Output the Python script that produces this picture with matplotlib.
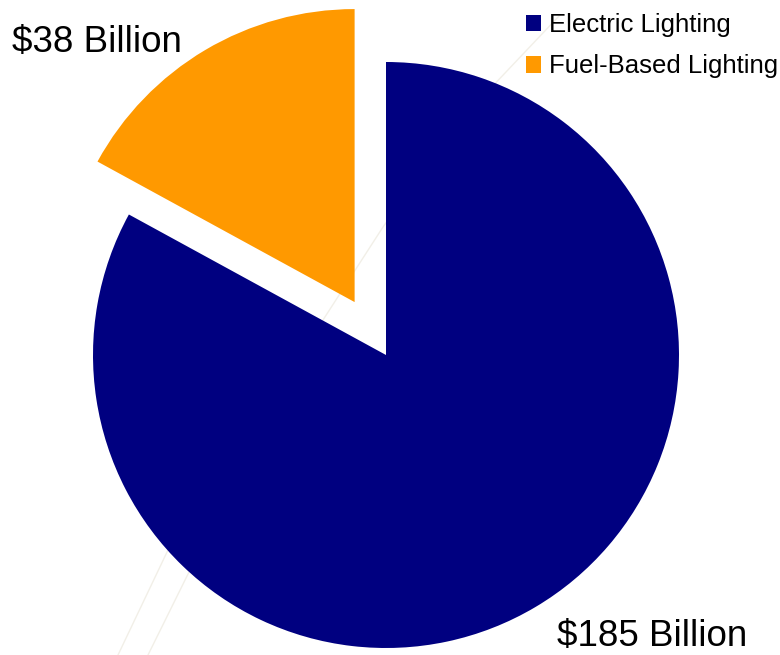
import matplotlib
matplotlib.use("Agg")
import matplotlib.pyplot as plt
from matplotlib.lines import Line2D

plt.rcParams['font.family'] = ['Liberation Sans', 'DejaVu Sans']

categories = ["Electric Lighting", "Fuel-Based Lighting"]
values = [185, 38]
value_labels = ["$185 Billion", "$38 Billion"]
colors = ["#000080", "#FF9900"]

W, H = 780, 655
fig = plt.figure(figsize=(W / 100, H / 100), dpi=100)
ax = fig.add_axes([0, 0, 1, 1])
ax.set_xlim(0, W)
ax.set_ylim(0, H)
ax.set_aspect('equal')
ax.axis('off')

# faint decorative background lines
for xs, ys in [((118, 168, 215, 323, 383, 420, 470, 560),
                (0, 105, 200, 335, 428, 480, 545, 640)),
               ((148, 190, 230),
                (0, 85, 160))]:
    fig.add_artist(Line2D([x / W for x in xs], [y / H for y in ys],
                          color="#e2dccb", lw=1.0, alpha=0.45, zorder=0))

radius = 293
center = (386, H - 355)
explode = [0, 0.21 * radius]
wedges, _ = ax.pie(values, colors=colors, startangle=90, counterclock=False,
                   radius=radius, center=center, explode=explode,
                   wedgeprops=dict(linewidth=0), frame=True)
ax.set_xlim(0, W)
ax.set_ylim(0, H)
ax.axis('off')

ax.text(12, H - 42, value_labels[1], fontsize=26.5, ha='left', va='center')
ax.text(747, H - 636, value_labels[0], fontsize=26.5, ha='right', va='center')

leg = ax.legend(wedges, categories, loc='upper right', bbox_to_anchor=(1.011, 0.996),
                frameon=False, fontsize=18.5, handlelength=0.62, handleheight=0.62,
                handletextpad=0.3, labelspacing=0.68, borderaxespad=0.0)

fig.savefig("out.png", dpi=100)
